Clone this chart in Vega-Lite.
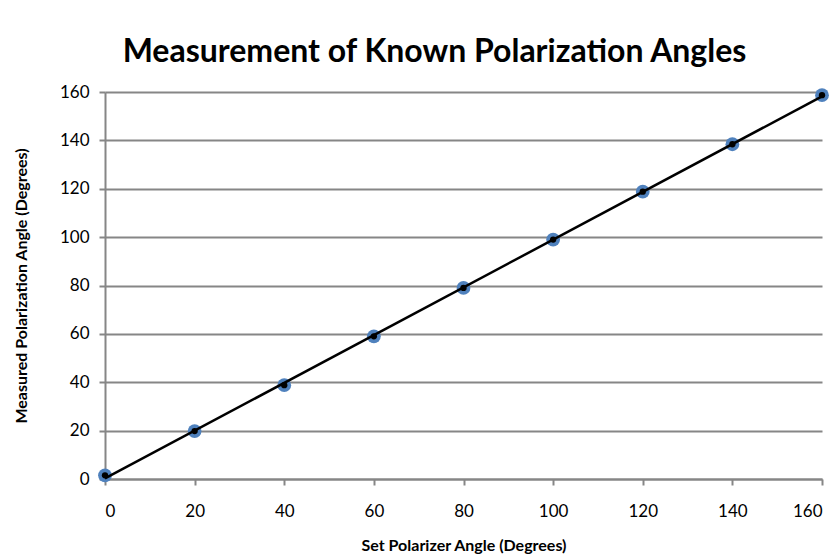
{
  "$schema": "https://vega.github.io/schema/vega-lite/v6.json",
  "width": 717,
  "height": 387,
  "autosize": {"type": "none"},
  "padding": {"left": 105, "top": 92, "right": 18, "bottom": 79},
  "background": "white",
  "title": {
    "text": "Measurement of Known Polarization Angles",
    "font": "Lato",
    "fontSize": 32,
    "fontWeight": "bold",
    "color": "black",
    "anchor": "middle",
    "dx": -29,
    "offset": 14
  },
  "data": {
    "values": [
      {"set": 0, "measured": 1.5},
      {"set": 20, "measured": 19.8},
      {"set": 40, "measured": 38.8},
      {"set": 60, "measured": 59},
      {"set": 80, "measured": 79},
      {"set": 100, "measured": 99},
      {"set": 120, "measured": 118.8},
      {"set": 140, "measured": 138.4},
      {"set": 160, "measured": 158.7}
    ]
  },
  "encoding": {
    "x": {
      "field": "set",
      "type": "quantitative",
      "scale": {"domain": [0, 160], "nice": false},
      "axis": {
        "title": "Set Polarizer Angle (Degrees)",
        "values": [0, 20, 40, 60, 80, 100, 120, 140, 160],
        "grid": false,
        "domainColor": "#868686",
        "domainWidth": 2,
        "tickColor": "#868686",
        "tickWidth": 2,
        "tickSize": 6,
        "labelPadding": 18,
        "labelFont": "Lato",
        "labelFontSize": 17,
        "labelColor": "black",
        "titleFont": "Lato",
        "titleFontSize": 16,
        "titleFontWeight": "bold",
        "titleColor": "black",
        "titlePadding": 18
      }
    },
    "y": {
      "field": "measured",
      "type": "quantitative",
      "scale": {"domain": [0, 160], "nice": false},
      "axis": {
        "title": "Measured Polarization Angle (Degrees)",
        "values": [0, 20, 40, 60, 80, 100, 120, 140, 160],
        "grid": true,
        "gridColor": "#868686",
        "gridWidth": 2,
        "domainColor": "#868686",
        "domainWidth": 2,
        "tickColor": "#868686",
        "tickWidth": 2,
        "tickSize": 6,
        "labelPadding": 10,
        "labelFont": "Lato",
        "labelFontSize": 17,
        "labelColor": "black",
        "titleFont": "Lato",
        "titleFontSize": 16,
        "titleFontWeight": "bold",
        "titleColor": "black",
        "titlePadding": 30
      }
    }
  },
  "layer": [
    {
      "mark": {"type": "point", "shape": "circle", "filled": true, "size": 190, "color": "#4f81bd", "opacity": 1}
    },
    {
      "transform": [{"regression": "measured", "on": "set", "extent": [0, 160]}],
      "mark": {"type": "line", "color": "black", "strokeWidth": 2.5}
    },
    {
      "mark": {"type": "point", "shape": "circle", "filled": true, "size": 40, "color": "black", "opacity": 1}
    }
  ],
  "config": {
    "view": {"stroke": null}
  }
}
